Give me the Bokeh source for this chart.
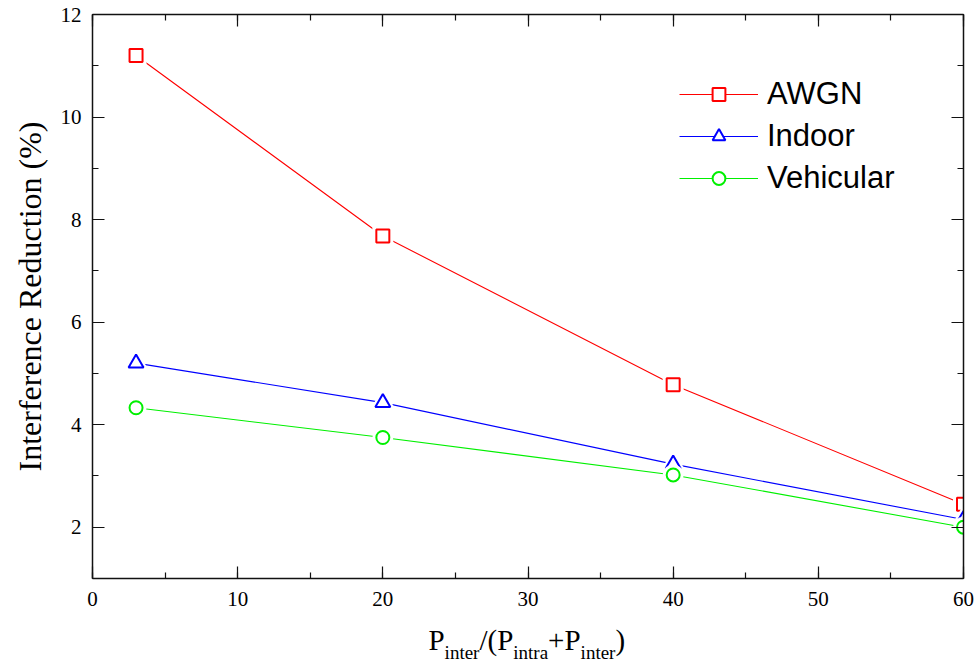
from bokeh.plotting import figure
from bokeh.models import (LinearAxis, SingleIntervalTicker, Range1d,
                          Legend, LegendItem)
from bokeh.layouts import column
from bokeh.core.properties import value
from bokeh.embed import file_html
from bokeh.resources import INLINE

# ---- data ----
x_vals = [3, 20, 40, 60]
awgn = [11.2, 7.68, 4.78, 2.45]
indoor = [5.2, 4.43, 3.23, 2.15]
vehicular = [4.33, 3.75, 3.02, 2.0]
series_names = ["AWGN", "Indoor", "Vehicular"]
y_label = "Interference Reduction (%)"
x_label_parts = [("P", "main"), ("inter", "sub"), ("/(P", "main"), ("intra", "sub"),
                 ("+P", "main"), ("inter", "sub"), (")", "main")]

SERIF = "Liberation Serif"
SANS = "Liberation Sans"
W = 975

p = figure(width=W, height=620, output_backend="svg", toolbar_location=None,
           x_range=Range1d(0, 60), y_range=Range1d(1, 12),
           min_border_left=92, min_border_right=12, min_border_top=14,
           min_border_bottom=42)
p.grid.visible = False
p.outline_line_color = None
p.background_fill_color = "white"


def style_axis(ax, labels=True):
    ax.axis_line_color = "#111111"
    ax.axis_line_width = 1.5
    ax.major_tick_in = 12
    ax.major_tick_out = 0
    ax.minor_tick_in = 6
    ax.minor_tick_out = 0
    ax.major_tick_line_color = "#111111"
    ax.minor_tick_line_color = "#111111"
    ax.major_tick_line_width = 1.2
    ax.minor_tick_line_width = 1.2
    ax.major_label_text_font = SERIF
    ax.major_label_text_font_size = "21px"
    ax.major_label_text_color = "black" if labels else None


p.xaxis.ticker = SingleIntervalTicker(interval=10, num_minor_ticks=2)
p.yaxis.ticker = SingleIntervalTicker(interval=2, num_minor_ticks=2)
style_axis(p.xaxis[0])
style_axis(p.yaxis[0])
p.xaxis.major_label_standoff = 13
p.yaxis.major_label_standoff = 11

p.yaxis.axis_label = y_label
p.yaxis.axis_label_text_font = SERIF
p.yaxis.axis_label_text_font_size = "32px"
p.yaxis.axis_label_text_font_style = "normal"
p.yaxis.axis_label_text_color = "black"
p.yaxis.axis_label_standoff = 10

top = LinearAxis(ticker=SingleIntervalTicker(interval=10, num_minor_ticks=2))
style_axis(top, labels=False)
p.add_layout(top, "above")
right = LinearAxis(ticker=SingleIntervalTicker(interval=2, num_minor_ticks=2))
style_axis(right, labels=False)
p.add_layout(right, "right")

colors = ["#FF0000", "#0000FF", "#00F000"]
markers = ["square", "triangle", "circle"]
sizes = [13, 15, 13]
data = [awgn, indoor, vehicular]

items = []
for name, ys, c, m, s in zip(series_names, data, colors, markers, sizes):
    ln = p.line(x_vals, ys, line_color=c, line_width=1.1)
    p.scatter(x_vals, ys, marker=m, size=s + 4, fill_color="white",
              line_color="white", line_width=4)
    sc = p.scatter(x_vals, ys, marker=m, size=s, fill_color="white",
                   line_color=c, line_width=2)
    items.append(LegendItem(label=name, renderers=[ln, sc]))

legend = Legend(items=items, location=(587, 382))
legend.label_text_font = SANS
legend.label_text_font_size = "31px"
legend.label_text_color = "black"
legend.glyph_width = 79
legend.glyph_height = 32
legend.label_standoff = 9
legend.spacing = 6
legend.padding = 0
legend.margin = 0
legend.border_line_color = None
legend.background_fill_alpha = 0
p.add_layout(legend, "center")

# ---- x-axis title strip (with subscripts); its frame is aligned with p's frame ----
H2 = 44
p2 = figure(width=W, height=H2, output_backend="svg", toolbar_location=None,
            x_range=Range1d(92, 963), y_range=Range1d(0, H2),
            x_axis_location=None, y_axis_location=None,
            min_border_left=92, min_border_right=12, min_border_top=0,
            min_border_bottom=0)
p2.grid.visible = False
p2.outline_line_color = None

widths = {"P": 0.556, "i": 0.278, "n": 0.5, "t": 0.278, "e": 0.444, "r": 0.333,
          "a": 0.444, "/": 0.278, "(": 0.333, ")": 0.333, "+": 0.564}
main_fs, sub_fs = 29, 19
xpos = 428
mx, my, mt, sx, sy, st = [], [], [], [], [], []
for txt, kind in x_label_parts:
    fs = main_fs if kind == "main" else sub_fs
    if kind == "main":
        mx.append(xpos); my.append(25); mt.append(txt)
    else:
        sx.append(xpos); sy.append(12); st.append(txt)
    xpos += sum(widths.get(ch, 0.5) for ch in txt) * fs

p2.text(x=mx, y=my, text=mt, text_font=value(SERIF), text_font_size=value(f"{main_fs}px"),
        text_baseline="alphabetic", text_align="left", text_color="black")
p2.text(x=sx, y=sy, text=st, text_font=value(SERIF), text_font_size=value(f"{sub_fs}px"),
        text_baseline="alphabetic", text_align="left", text_color="black")

layout = column(p, p2, spacing=0)
open("out.html", "w").write(file_html(layout, INLINE))
